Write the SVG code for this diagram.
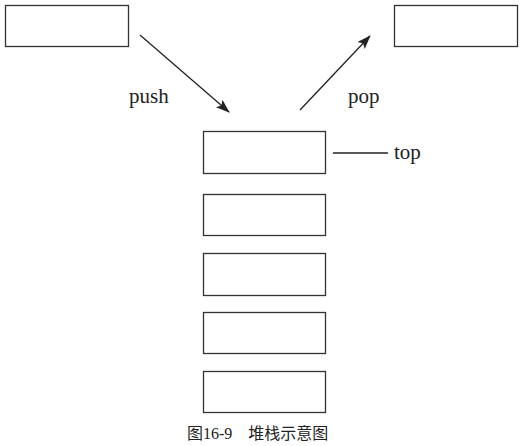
<svg xmlns="http://www.w3.org/2000/svg" width="526" height="446" viewBox="0 0 526 446">
<style>
.box{fill:#fff;stroke:#333;stroke-width:1.3}
.ln{stroke:#222;stroke-width:1.3;fill:none}
.t{font-size:21px;fill:#222}
.cap{font-size:16px;fill:#222}
</style>
<defs>
<marker id="ah" markerWidth="14" markerHeight="10" refX="13" refY="5" orient="auto" markerUnits="userSpaceOnUse">
<path d="M0,0 L14,5 L0,10 L3,5 Z" fill="#222"/>
</marker>
</defs>
<rect width="526" height="446" fill="#fff"/>
<g id="src"><rect class="box" x="5.5" y="5.5" width="123" height="41"/></g>
<g id="dst"><rect class="box" x="394.5" y="5.5" width="123" height="41"/></g>
<g id="s1"><rect class="box" x="203.5" y="131.5" width="122" height="42"/></g>
<g id="s2"><rect class="box" x="203.5" y="194.5" width="122" height="41"/></g>
<g id="s3"><rect class="box" x="203.5" y="253.5" width="122" height="42"/></g>
<g id="s4"><rect class="box" x="203.5" y="312.5" width="122" height="41"/></g>
<g id="s5"><rect class="box" x="203.5" y="371.5" width="122" height="41"/></g>
<g id="connectors">
<line class="ln" x1="140" y1="35" x2="229" y2="112" marker-end="url(#ah)"/>
<line class="ln" x1="300" y1="110" x2="370" y2="36" marker-end="url(#ah)"/>
<line class="ln" x1="333" y1="153" x2="388" y2="153"/>
</g>
<text class="t" x="129" y="102.5" font-family="Liberation Serif, serif">push</text>
<text class="t" x="348" y="102.5" font-family="Liberation Serif, serif">pop</text>
<text class="t" x="394" y="159" font-family="Liberation Serif, serif">top</text>
<text class="cap" x="187" y="439" font-family="Liberation Serif, Noto Sans CJK SC, serif">图16-9　堆栈示意图</text>
</svg>
